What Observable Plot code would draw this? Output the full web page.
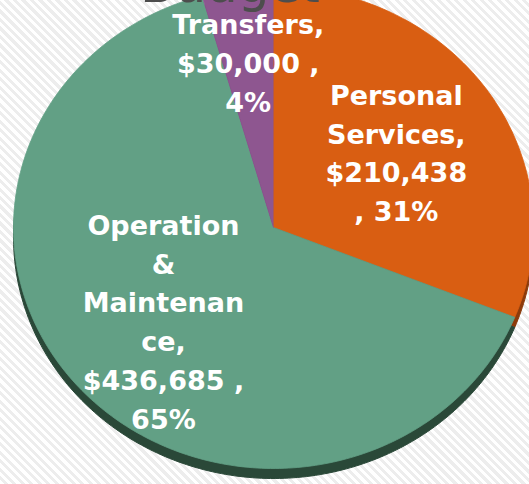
<!DOCTYPE html>
<html><head><meta charset="utf-8">
<script src="https://cdn.jsdelivr.net/npm/d3@7"></script>
<script src="https://cdn.jsdelivr.net/npm/@observablehq/plot@0.6"></script>
<style>
html,body{margin:0;padding:0;}
body{width:529px;height:484px;overflow:hidden;background:repeating-linear-gradient(45deg,#ffffff 0 3px,#ededed 3px 6px);}
#chart svg{display:block;}
</style></head><body><div id="chart"></div>
<script>
// ---- data ----
const title = "Budget";
const categories = ["Personal Services", "Operation & Maintenance", "Transfers"];
const values = [210438, 436685, 30000];
const percentLabels = ["31%", "65%", "4%"];
const labelTexts = [
  "Personal\nServices,\n$210,438\n, 31%",
  "Operation\n&\nMaintenan\nce,\n$436,685 ,\n65%",
  "Transfers,\n$30,000 ,\n4%"
];
const colors = ["#D95E12", "#62A085", "#8E5690"];
const sideColors = ["#8c3b0b", "#2a4838", "#583459"];

// ---- geometry ----
const W = 529, H = 484, CX = 273, CY = 227, RX = 260, RY = 241, DEPTH = 10;
const total = d3.sum(values);
const arcs = d3.pie().sort(null).value(d => d)(values);

const slicePts = arcs.flatMap((a, i) => {
  const n = Math.max(2, Math.ceil((a.endAngle - a.startAngle) / (Math.PI / 180)));
  const pts = [{k: categories[i], x: 0, y: 0}];
  for (let j = 0; j <= n; j++) {
    const t = a.startAngle + (a.endAngle - a.startAngle) * j / n;
    pts.push({k: categories[i], x: Math.sin(t), y: Math.cos(t)});
  }
  return pts;
});
const ellipse = d3.range(0, 361, 2).map(deg => ({x: Math.sin(deg * Math.PI / 180), y: Math.cos(deg * Math.PI / 180)}));

const labels = arcs.map((a, i) => {
  const mid = (a.startAngle + a.endAngle) / 2;
  const r = values[i] / total < 0.1 ? 0.7 : 0.57;
  return {text: labelTexts[i], x: r * Math.sin(mid), y: r * Math.cos(mid)};
});

const chart = Plot.plot({
  width: W, height: H, margin: 0,
  x: {domain: [-CX / RX, (W - CX) / RX], axis: null},
  y: {domain: [-(H - CY) / RY, CY / RY], axis: null},
  style: {background: "transparent", overflow: "visible"},
  marks: [
    // soft shadow
    Plot.line(ellipse, {x: "x", y: "y", fill: "#000", fillOpacity: 0.28, stroke: "none", dx: -5, dy: DEPTH + 4, ariaLabel: "shadow"}),
    // 3D side
    Plot.line(slicePts, {x: "x", y: "y", z: "k", fill: d => sideColors[categories.indexOf(d.k)], stroke: d => sideColors[categories.indexOf(d.k)], strokeWidth: 1, dy: DEPTH}),
    // top face
    Plot.line(slicePts, {x: "x", y: "y", z: "k", fill: d => colors[categories.indexOf(d.k)], stroke: d => colors[categories.indexOf(d.k)], strokeWidth: 0.8}),
    // data labels
    Plot.text(labels, {x: "x", y: "y", text: "text", fill: "white", fontSize: 27, fontWeight: "bold", fontFamily: "DejaVu Sans", lineHeight: 1.44, textAnchor: "middle", lineAnchor: "middle"}),
    // title (cut off at top, as in the slide)
    Plot.text([title], {frameAnchor: "top", text: d => d, dx: -35, dy: 1, lineAnchor: "bottom", fontSize: 50, fill: "#4d4d4d", fontFamily: "DejaVu Sans"})
  ]
});
document.getElementById("chart").appendChild(chart);
d3.select(chart).selectAll("g[aria-label=shadow]").style("filter", "blur(6px)");
</script>
</body></html>
